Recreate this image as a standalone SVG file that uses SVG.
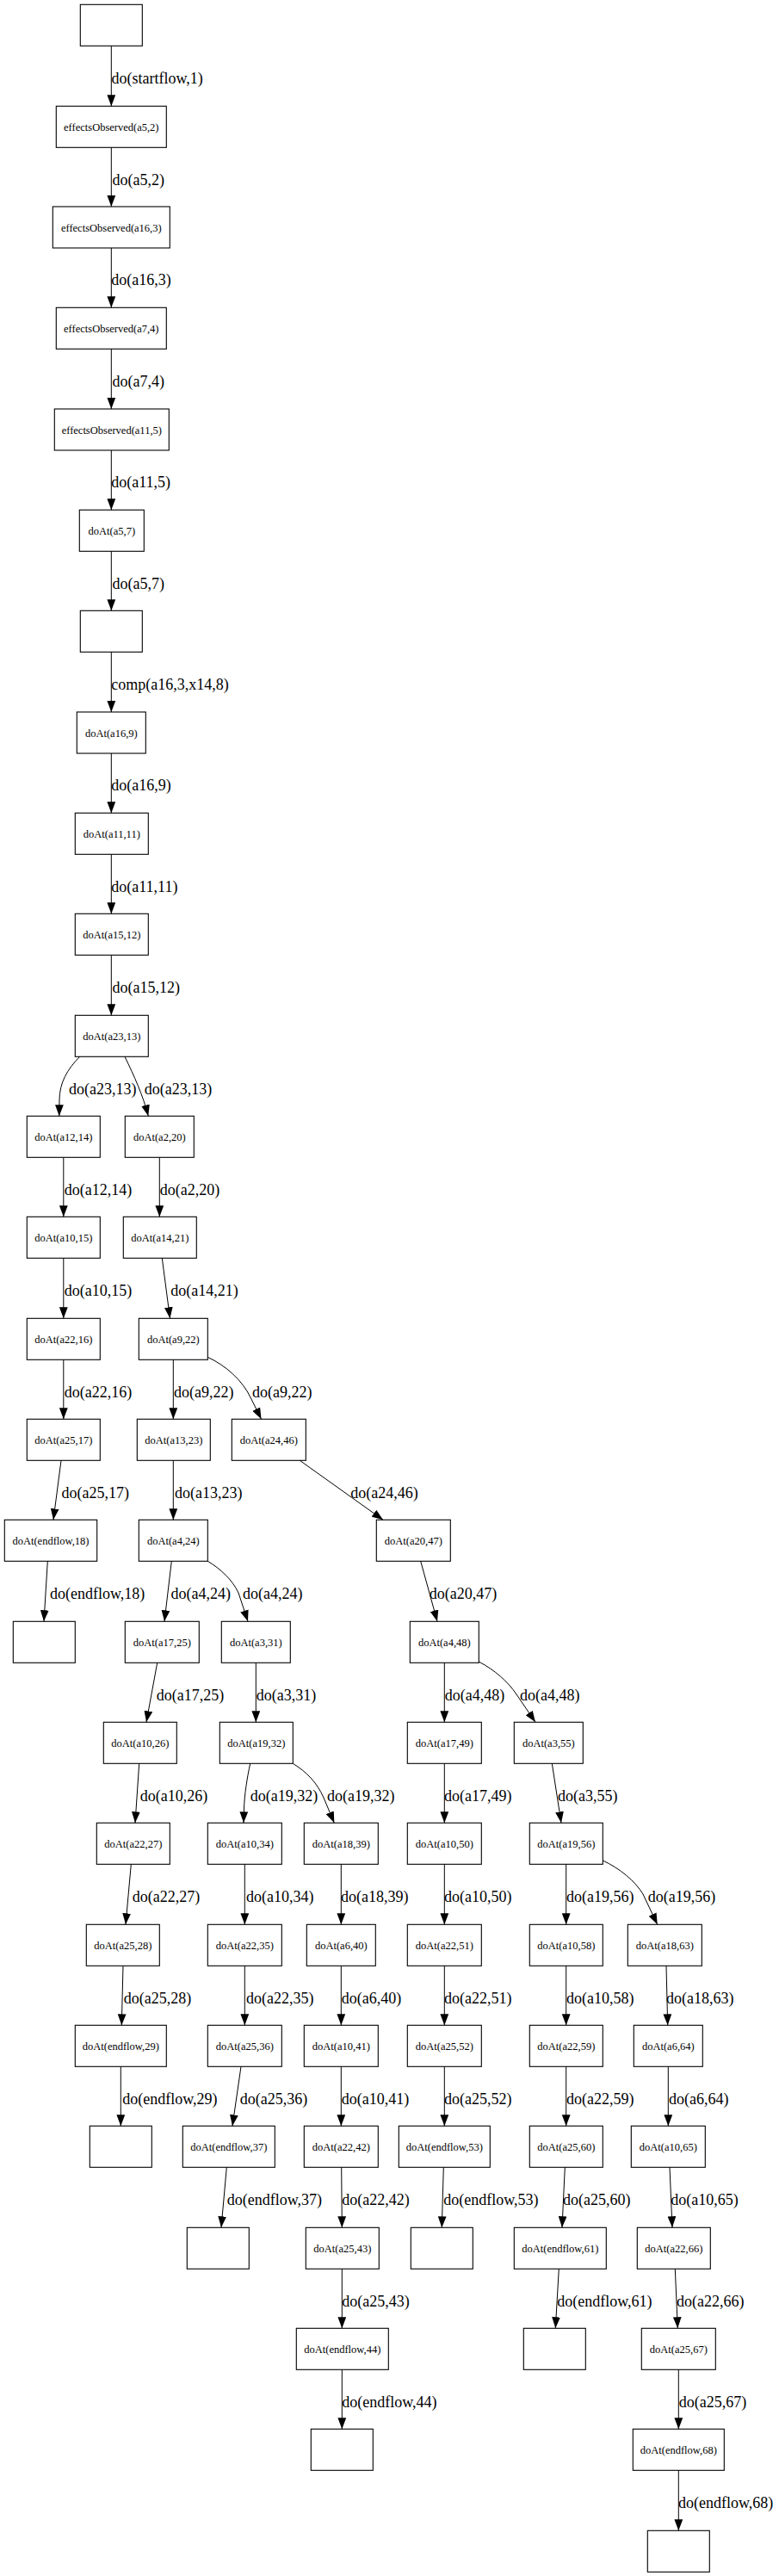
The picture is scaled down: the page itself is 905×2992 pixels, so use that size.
<svg xmlns="http://www.w3.org/2000/svg" width="905" height="2992" viewBox="0 0 905 2992">
<style>
rect.n{fill:#fff;stroke:#000;stroke-width:1.1}
text.t{font-family:"Liberation Serif","Times New Roman",serif;font-size:12.5px;text-anchor:middle;fill:#000}
.edges path{fill:none;stroke:#000;stroke-width:1;marker-end:url(#arr)}
.edges text{font-family:"Liberation Serif","Times New Roman",serif;font-size:18px;fill:#000}
</style>
<defs>
<marker id="arr" markerUnits="userSpaceOnUse" markerWidth="13" markerHeight="10" viewBox="0 0 12.5 9.4" refX="12.5" refY="4.7" orient="auto">
<path d="M0,0 L12.5,4.7 L0,9.4 z" fill="#000"/>
</marker>
</defs>
<rect width="905" height="2992" fill="#fff"/>
<g id="nodes">
<g id="n0"><rect class="n" x="93.3" y="5.3" width="72" height="48"/></g>
<g id="n1"><rect class="n" x="65.3" y="123.3" width="128" height="48"/><text class="t" x="129.3" y="151.8">effectsObserved(a5,2)</text></g>
<g id="n2"><rect class="n" x="61.3" y="240" width="136" height="48"/><text class="t" x="129.3" y="268.5">effectsObserved(a16,3)</text></g>
<g id="n3"><rect class="n" x="65.3" y="357.3" width="128" height="48"/><text class="t" x="129.3" y="385.8">effectsObserved(a7,4)</text></g>
<g id="n4"><rect class="n" x="63.3" y="475" width="133" height="48"/><text class="t" x="129.8" y="503.5">effectsObserved(a11,5)</text></g>
<g id="n5"><rect class="n" x="92.3" y="592.3" width="75" height="48"/><text class="t" x="129.8" y="620.8">doAt(a5,7)</text></g>
<g id="n6"><rect class="n" x="93.3" y="709.3" width="72" height="48"/></g>
<g id="n7"><rect class="n" x="89.3" y="827" width="80" height="48"/><text class="t" x="129.3" y="855.5">doAt(a16,9)</text></g>
<g id="n8"><rect class="n" x="87.3" y="944.3" width="85" height="48"/><text class="t" x="129.8" y="972.8">doAt(a11,11)</text></g>
<g id="n9"><rect class="n" x="87.3" y="1061.3" width="85" height="48"/><text class="t" x="129.8" y="1089.8">doAt(a15,12)</text></g>
<g id="n10"><rect class="n" x="87.3" y="1179.3" width="85" height="48"/><text class="t" x="129.8" y="1207.8">doAt(a23,13)</text></g>
<g id="n11"><rect class="n" x="31.3" y="1296.3" width="85" height="48"/><text class="t" x="73.8" y="1324.8">doAt(a12,14)</text></g>
<g id="n20"><rect class="n" x="145.3" y="1296.3" width="80" height="48"/><text class="t" x="185.3" y="1324.8">doAt(a2,20)</text></g>
<g id="n15"><rect class="n" x="31.3" y="1413.3" width="85" height="48"/><text class="t" x="73.8" y="1441.8">doAt(a10,15)</text></g>
<g id="n21"><rect class="n" x="143.3" y="1413.3" width="85" height="48"/><text class="t" x="185.8" y="1441.8">doAt(a14,21)</text></g>
<g id="n16"><rect class="n" x="31.3" y="1531.3" width="85" height="48"/><text class="t" x="73.8" y="1559.8">doAt(a22,16)</text></g>
<g id="n22"><rect class="n" x="161.3" y="1531.3" width="80" height="48"/><text class="t" x="201.3" y="1559.8">doAt(a9,22)</text></g>
<g id="n17"><rect class="n" x="31.3" y="1648.3" width="85" height="48"/><text class="t" x="73.8" y="1676.8">doAt(a25,17)</text></g>
<g id="n23"><rect class="n" x="159.3" y="1648.3" width="85" height="48"/><text class="t" x="201.8" y="1676.8">doAt(a13,23)</text></g>
<g id="n46"><rect class="n" x="269.3" y="1648.3" width="86" height="48"/><text class="t" x="312.3" y="1676.8">doAt(a24,46)</text></g>
<g id="n18"><rect class="n" x="5.3" y="1765.3" width="107.4" height="48"/><text class="t" x="59" y="1793.8">doAt(endflow,18)</text></g>
<g id="n24"><rect class="n" x="161.3" y="1765.3" width="80" height="48"/><text class="t" x="201.3" y="1793.8">doAt(a4,24)</text></g>
<g id="n47"><rect class="n" x="437.3" y="1765.3" width="86" height="48"/><text class="t" x="480.3" y="1793.8">doAt(a20,47)</text></g>
<g id="n19"><rect class="n" x="15.3" y="1883.3" width="72" height="48"/></g>
<g id="n25"><rect class="n" x="145.3" y="1883.3" width="86" height="48"/><text class="t" x="188.3" y="1911.8">doAt(a17,25)</text></g>
<g id="n31"><rect class="n" x="257.3" y="1883.3" width="80" height="48"/><text class="t" x="297.3" y="1911.8">doAt(a3,31)</text></g>
<g id="n48"><rect class="n" x="476.3" y="1883.3" width="80" height="48"/><text class="t" x="516.3" y="1911.8">doAt(a4,48)</text></g>
<g id="n26"><rect class="n" x="120.3" y="2000.3" width="85" height="48"/><text class="t" x="162.8" y="2028.8">doAt(a10,26)</text></g>
<g id="n32"><rect class="n" x="255.3" y="2000.3" width="85" height="48"/><text class="t" x="297.8" y="2028.8">doAt(a19,32)</text></g>
<g id="n49"><rect class="n" x="473.3" y="2000.3" width="86" height="48"/><text class="t" x="516.3" y="2028.8">doAt(a17,49)</text></g>
<g id="n55"><rect class="n" x="597.3" y="2000.3" width="80" height="48"/><text class="t" x="637.3" y="2028.8">doAt(a3,55)</text></g>
<g id="n27"><rect class="n" x="112.3" y="2117.3" width="85" height="48"/><text class="t" x="154.8" y="2145.8">doAt(a22,27)</text></g>
<g id="n34"><rect class="n" x="241.3" y="2117.3" width="86" height="48"/><text class="t" x="284.3" y="2145.8">doAt(a10,34)</text></g>
<g id="n39"><rect class="n" x="353.3" y="2117.3" width="86" height="48"/><text class="t" x="396.3" y="2145.8">doAt(a18,39)</text></g>
<g id="n50"><rect class="n" x="473.3" y="2117.3" width="86" height="48"/><text class="t" x="516.3" y="2145.8">doAt(a10,50)</text></g>
<g id="n56"><rect class="n" x="615.3" y="2117.3" width="85" height="48"/><text class="t" x="657.8" y="2145.8">doAt(a19,56)</text></g>
<g id="n28"><rect class="n" x="100.3" y="2235.3" width="85" height="48"/><text class="t" x="142.8" y="2263.8">doAt(a25,28)</text></g>
<g id="n35"><rect class="n" x="241.3" y="2235.3" width="86" height="48"/><text class="t" x="284.3" y="2263.8">doAt(a22,35)</text></g>
<g id="n40"><rect class="n" x="356.3" y="2235.3" width="80" height="48"/><text class="t" x="396.3" y="2263.8">doAt(a6,40)</text></g>
<g id="n51"><rect class="n" x="473.3" y="2235.3" width="86" height="48"/><text class="t" x="516.3" y="2263.8">doAt(a22,51)</text></g>
<g id="n58"><rect class="n" x="615.3" y="2235.3" width="85" height="48"/><text class="t" x="657.8" y="2263.8">doAt(a10,58)</text></g>
<g id="n63"><rect class="n" x="729.3" y="2235.3" width="86" height="48"/><text class="t" x="772.3" y="2263.8">doAt(a18,63)</text></g>
<g id="n29"><rect class="n" x="87.3" y="2352.3" width="106" height="48"/><text class="t" x="140.3" y="2380.8">doAt(endflow,29)</text></g>
<g id="n36"><rect class="n" x="241.3" y="2352.3" width="86" height="48"/><text class="t" x="284.3" y="2380.8">doAt(a25,36)</text></g>
<g id="n41"><rect class="n" x="353.3" y="2352.3" width="86" height="48"/><text class="t" x="396.3" y="2380.8">doAt(a10,41)</text></g>
<g id="n52"><rect class="n" x="473.3" y="2352.3" width="86" height="48"/><text class="t" x="516.3" y="2380.8">doAt(a25,52)</text></g>
<g id="n59"><rect class="n" x="615.3" y="2352.3" width="85" height="48"/><text class="t" x="657.8" y="2380.8">doAt(a22,59)</text></g>
<g id="n64"><rect class="n" x="736.3" y="2352.3" width="80" height="48"/><text class="t" x="776.3" y="2380.8">doAt(a6,64)</text></g>
<g id="n30"><rect class="n" x="104.3" y="2469.3" width="72" height="48"/></g>
<g id="n37"><rect class="n" x="212.3" y="2469.3" width="107" height="48"/><text class="t" x="265.8" y="2497.8">doAt(endflow,37)</text></g>
<g id="n42"><rect class="n" x="353.3" y="2469.3" width="86" height="48"/><text class="t" x="396.3" y="2497.8">doAt(a22,42)</text></g>
<g id="n53"><rect class="n" x="463.3" y="2469.3" width="106" height="48"/><text class="t" x="516.3" y="2497.8">doAt(endflow,53)</text></g>
<g id="n60"><rect class="n" x="615.3" y="2469.3" width="85" height="48"/><text class="t" x="657.8" y="2497.8">doAt(a25,60)</text></g>
<g id="n65"><rect class="n" x="733.3" y="2469.3" width="86" height="48"/><text class="t" x="776.3" y="2497.8">doAt(a10,65)</text></g>
<g id="n38"><rect class="n" x="217.3" y="2587.3" width="72" height="48"/></g>
<g id="n43"><rect class="n" x="355.3" y="2587.3" width="85" height="48"/><text class="t" x="397.8" y="2615.8">doAt(a25,43)</text></g>
<g id="n54"><rect class="n" x="477.3" y="2587.3" width="72" height="48"/></g>
<g id="n61"><rect class="n" x="597.3" y="2587.3" width="107" height="48"/><text class="t" x="650.8" y="2615.8">doAt(endflow,61)</text></g>
<g id="n66"><rect class="n" x="740.3" y="2587.3" width="85" height="48"/><text class="t" x="782.8" y="2615.8">doAt(a22,66)</text></g>
<g id="n44"><rect class="n" x="344.3" y="2704.3" width="107" height="48"/><text class="t" x="397.8" y="2732.8">doAt(endflow,44)</text></g>
<g id="n62"><rect class="n" x="608.3" y="2704.3" width="72" height="48"/></g>
<g id="n67"><rect class="n" x="745.3" y="2704.3" width="86" height="48"/><text class="t" x="788.3" y="2732.8">doAt(a25,67)</text></g>
<g id="n45"><rect class="n" x="361.3" y="2821.3" width="72" height="48"/></g>
<g id="n68"><rect class="n" x="735.3" y="2821.3" width="106" height="48"/><text class="t" x="788.3" y="2849.8">doAt(endflow,68)</text></g>
<g id="n69"><rect class="n" x="752.3" y="2939.3" width="72" height="48"/></g>
</g>
<g id="edges" class="edges">
<path d="M129.3,53.3 V123.3"/><text x="129.5" y="96.7">do(startflow,1)</text>
<path d="M129.3,171.3 V240"/><text x="130.5" y="214.7">do(a5,2)</text>
<path d="M129.3,288 V357.3"/><text x="129.3" y="331.4">do(a16,3)</text>
<path d="M129.3,405.3 V475"/><text x="130.5" y="448.7">do(a7,4)</text>
<path d="M129.3,523 V592.3"/><text x="129.3" y="566.4">do(a11,5)</text>
<path d="M129.3,640.3 V709.3"/><text x="130.5" y="683.7">do(a5,7)</text>
<path d="M129.3,757.3 V827"/><text x="129.3" y="800.7">comp(a16,3,x14,8)</text>
<path d="M129.3,875 V944.3"/><text x="129.3" y="918.4">do(a16,9)</text>
<path d="M129.3,992.3 V1061.3"/><text x="129.3" y="1035.7">do(a11,11)</text>
<path d="M129.3,1109.3 V1179.3"/><text x="130.5" y="1152.7">do(a15,12)</text>
<path d="M92.7,1227.3 C78,1242 69,1258 69,1278 L68.8,1296.3"/><text x="80" y="1270.7">do(a23,13)</text>
<path d="M145,1227.3 C156,1250 166,1272 172.3,1296.3"/><text x="167.7" y="1270.7">do(a23,13)</text>
<path d="M73.8,1344.3 V1413.3"/><text x="74.7" y="1387.7">do(a12,14)</text>
<path d="M185.3,1344.3 V1413.3"/><text x="185.8" y="1387.7">do(a2,20)</text>
<path d="M73.8,1461.3 V1531.3"/><text x="74.7" y="1504.7">do(a10,15)</text>
<path d="M188.3,1461.3 L197.5,1531.3"/><text x="198.3" y="1504.7">do(a14,21)</text>
<path d="M73.8,1579.3 V1648.3"/><text x="74.7" y="1622.7">do(a22,16)</text>
<path d="M201.3,1579.3 V1648.3"/><text x="202" y="1622.7">do(a9,22)</text>
<path d="M241.3,1576.3 C262,1586 282,1603 292,1625 L303.5,1648.3"/><text x="293" y="1622.7">do(a9,22)</text>
<path d="M71,1696.3 L62,1765.3"/><text x="71.5" y="1739.7">do(a25,17)</text>
<path d="M201.3,1696.3 V1765.3"/><text x="203" y="1739.7">do(a13,23)</text>
<path d="M348.3,1696.3 L445,1765.3"/><text x="407.3" y="1739.7">do(a24,46)</text>
<path d="M55.3,1813.3 L51,1883.3"/><text x="58" y="1856.7">do(endflow,18)</text>
<path d="M199.3,1813.3 L191,1883.3"/><text x="198.5" y="1856.7">do(a4,24)</text>
<path d="M241.3,1813.3 C256,1822 270,1835 277,1850 L288,1883.3"/><text x="282" y="1856.7">do(a4,24)</text>
<path d="M488.7,1813.3 L508,1883.3"/><text x="498.7" y="1856.7">do(a20,47)</text>
<path d="M182.7,1931.3 L170,2000.3"/><text x="181.7" y="1974.7">do(a17,25)</text>
<path d="M297.3,1931.3 V2000.3"/><text x="297.8" y="1974.7">do(a3,31)</text>
<path d="M516.3,1931.3 V2000.3"/><text x="516.7" y="1974.7">do(a4,48)</text>
<path d="M556.3,1930 C575,1940 590,1953 600,1968 L622,2000.3"/><text x="604" y="1974.7">do(a4,48)</text>
<path d="M161.7,2048.3 L157,2117.3"/><text x="162.7" y="2091.7">do(a10,26)</text>
<path d="M290.7,2048.3 C287,2065 284,2085 283.5,2100 L283,2117.3"/><text x="290.7" y="2091.7">do(a19,32)</text>
<path d="M340.3,2048.3 C356,2058 368,2070 376,2088 L388.3,2117.3"/><text x="380" y="2091.7">do(a19,32)</text>
<path d="M516.3,2048.3 V2117.3"/><text x="516" y="2091.7">do(a17,49)</text>
<path d="M641.3,2048.3 L652,2117.3"/><text x="648" y="2091.7">do(a3,55)</text>
<path d="M152.3,2165.3 L146,2235.3"/><text x="153.7" y="2208.7">do(a22,27)</text>
<path d="M284.3,2165.3 V2235.3"/><text x="286" y="2208.7">do(a10,34)</text>
<path d="M396.3,2165.3 V2235.3"/><text x="396" y="2208.7">do(a18,39)</text>
<path d="M516.3,2165.3 V2235.3"/><text x="516" y="2208.7">do(a10,50)</text>
<path d="M657.7,2165.3 V2235.3"/><text x="658" y="2208.7">do(a19,56)</text>
<path d="M700.3,2161 C720,2170 738,2185 747,2200 L763.7,2235.3"/><text x="752.7" y="2208.7">do(a19,56)</text>
<path d="M143,2283.3 L141.3,2352.3"/><text x="143.7" y="2326.7">do(a25,28)</text>
<path d="M284.3,2283.3 V2352.3"/><text x="286" y="2326.7">do(a22,35)</text>
<path d="M396.3,2283.3 V2352.3"/><text x="396.7" y="2326.7">do(a6,40)</text>
<path d="M516.3,2283.3 V2352.3"/><text x="516" y="2326.7">do(a22,51)</text>
<path d="M657.7,2283.3 V2352.3"/><text x="658" y="2326.7">do(a10,58)</text>
<path d="M774,2283.3 L775.7,2352.3"/><text x="774" y="2326.7">do(a18,63)</text>
<path d="M140.3,2400.3 V2469.3"/><text x="142.3" y="2443.7">do(endflow,29)</text>
<path d="M280,2400.3 L270,2469.3"/><text x="278.7" y="2443.7">do(a25,36)</text>
<path d="M396.3,2400.3 V2469.3"/><text x="396.7" y="2443.7">do(a10,41)</text>
<path d="M516.3,2400.3 V2469.3"/><text x="516" y="2443.7">do(a25,52)</text>
<path d="M657.7,2400.3 V2469.3"/><text x="658" y="2443.7">do(a22,59)</text>
<path d="M776.3,2400.3 V2469.3"/><text x="777" y="2443.7">do(a6,64)</text>
<path d="M263.3,2517.3 L257,2587.3"/><text x="263.7" y="2560.7">do(endflow,37)</text>
<path d="M396.7,2517.3 L397.3,2587.3"/><text x="397.3" y="2560.7">do(a22,42)</text>
<path d="M515.3,2517.3 L513.3,2587.3"/><text x="515.3" y="2560.7">do(endflow,53)</text>
<path d="M656.3,2517.3 L653,2587.3"/><text x="654" y="2560.7">do(a25,60)</text>
<path d="M778,2517.3 L781,2587.3"/><text x="779.3" y="2560.7">do(a10,65)</text>
<path d="M397.3,2635.3 V2704.3"/><text x="397.3" y="2678.7">do(a25,43)</text>
<path d="M649.3,2635.3 L645.3,2704.3"/><text x="647.3" y="2678.7">do(endflow,61)</text>
<path d="M784.3,2635.3 L787.3,2704.3"/><text x="786" y="2678.7">do(a22,66)</text>
<path d="M397.3,2752.3 V2821.3"/><text x="397.3" y="2795.7">do(endflow,44)</text>
<path d="M788.3,2752.3 V2821.3"/><text x="788.7" y="2795.7">do(a25,67)</text>
<path d="M788.3,2869.3 V2939.3"/><text x="788" y="2912.7">do(endflow,68)</text>
</g>
</svg>
